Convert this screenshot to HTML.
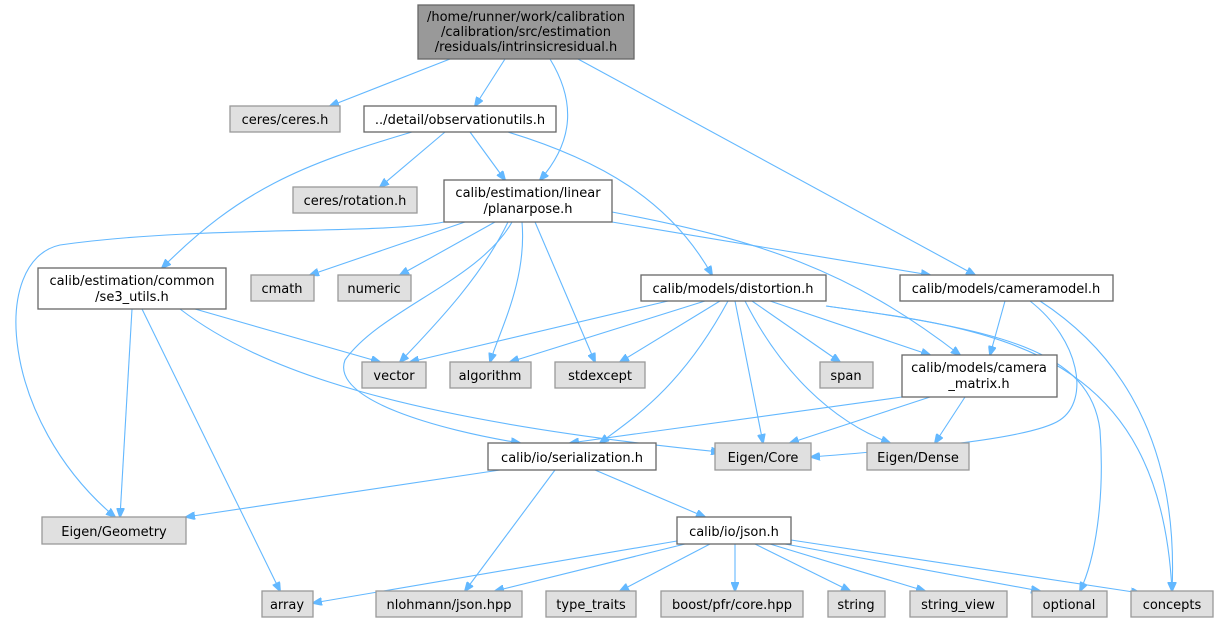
<!DOCTYPE html>
<html><head><meta charset="utf-8"><style>
html,body{margin:0;padding:0;background:#fff;}
svg{display:block;}
text{font-family:"DejaVu Sans","Liberation Sans",sans-serif;font-size:13px;fill:#000;}
.w{fill:#fff;stroke:#666;stroke-width:1.3;}
.g{fill:#e0e0e0;stroke:#999;stroke-width:1.3;}
.r{fill:#999;stroke:#666;stroke-width:1.3;}
path.e{fill:none;stroke:#63b8ff;stroke-width:1.1;marker-end:url(#a);}
</style></head><body>
<svg width="1218" height="623" viewBox="0 0 1218 623" xmlns="http://www.w3.org/2000/svg">
<defs><marker id="a" markerWidth="10" markerHeight="8" refX="9" refY="4" orient="auto" markerUnits="userSpaceOnUse"><path d="M0,0 L10,4 L0,8 z" fill="#63b8ff" stroke="#63b8ff"/></marker></defs>
<g>
<path class="e" d="M450,59 L330,106"/>
<path class="e" d="M505,59 L475,106"/>
<path class="e" d="M550,59 C575,100 575,140 540,180"/>
<path class="e" d="M578,59 L975,275"/>
<path class="e" d="M412,132 C300,165 240,190 162,268"/>
<path class="e" d="M445,132 L380,187"/>
<path class="e" d="M470,132 L505,180"/>
<path class="e" d="M508,132 C600,160 670,200 712,275"/>
<path class="e" d="M444,222 C380,235 200,225 60,245 C-10,260 0,420 115,517"/>
<path class="e" d="M465,222 L310,275"/>
<path class="e" d="M495,222 L400,275"/>
<path class="e" d="M508,222 C480,280 430,330 400,362"/>
<path class="e" d="M512,222 C480,280 380,310 345,360 C330,400 440,430 520,443"/>
<path class="e" d="M522,222 C527,280 500,330 490,362"/>
<path class="e" d="M535,222 L595,362"/>
<path class="e" d="M612,222 L930,275"/>
<path class="e" d="M612,212 C760,240 850,270 960,355"/>
<path class="e" d="M195,309 L380,362"/>
<path class="e" d="M180,309 C260,370 400,420 720,452"/>
<path class="e" d="M132,309 L120,517"/>
<path class="e" d="M142,309 L280,591"/>
<path class="e" d="M668,301 L410,362"/>
<path class="e" d="M705,301 L510,362"/>
<path class="e" d="M720,301 L620,362"/>
<path class="e" d="M728,301 C680,390 630,420 600,443"/>
<path class="e" d="M735,301 L763,443"/>
<path class="e" d="M745,301 C780,370 830,420 890,443"/>
<path class="e" d="M752,301 L840,362"/>
<path class="e" d="M770,301 L930,355"/>
<path class="e" d="M826,306 C1000,330 1090,350 1100,430 C1105,500 1095,560 1080,591"/>
<path class="e" d="M826,306 C1000,330 1160,350 1172,591"/>
<path class="e" d="M1005,301 L990,355"/>
<path class="e" d="M1030,301 C1080,340 1090,400 1060,420 C1030,440 900,450 811,457"/>
<path class="e" d="M1040,301 C1100,340 1180,420 1172,591"/>
<path class="e" d="M902,397 L570,443"/>
<path class="e" d="M930,397 L790,443"/>
<path class="e" d="M965,397 L935,443"/>
<path class="e" d="M500,470 L186,517"/>
<path class="e" d="M555,470 L465,591"/>
<path class="e" d="M595,470 L705,517"/>
<path class="e" d="M677,541 L313,603"/>
<path class="e" d="M685,544 L495,591"/>
<path class="e" d="M710,544 L620,591"/>
<path class="e" d="M735,544 L735,591"/>
<path class="e" d="M755,544 L850,591"/>
<path class="e" d="M770,544 L925,591"/>
<path class="e" d="M785,544 L1040,591"/>
<path class="e" d="M791,540 L1140,593"/>
</g>
<rect class="r" x="418" y="5" width="216" height="54"/>
<text x="526" y="21" text-anchor="middle">/home/runner/work/calibration</text>
<text x="526" y="36" text-anchor="middle">/calibration/src/estimation</text>
<text x="526" y="51" text-anchor="middle">/residuals/intrinsicresidual.h</text>
<rect class="g" x="230" y="106" width="110" height="26"/><text x="285" y="124" text-anchor="middle">ceres/ceres.h</text>
<rect class="w" x="364" y="106" width="192" height="26"/><text x="460" y="124" text-anchor="middle">../detail/observationutils.h</text>
<rect class="g" x="293" y="187" width="124" height="26"/><text x="355" y="205" text-anchor="middle">ceres/rotation.h</text>
<rect class="w" x="444" y="180" width="168" height="42"/><text x="528" y="197" text-anchor="middle">calib/estimation/linear</text><text x="528" y="213" text-anchor="middle">/planarpose.h</text>
<rect class="w" x="38" y="268" width="188" height="41"/><text x="132" y="285" text-anchor="middle">calib/estimation/common</text><text x="132" y="301" text-anchor="middle">/se3_utils.h</text>
<rect class="g" x="251" y="275" width="63" height="26"/><text x="282" y="293" text-anchor="middle">cmath</text>
<rect class="g" x="338" y="275" width="73" height="26"/><text x="374" y="293" text-anchor="middle">numeric</text>
<rect class="w" x="641" y="275" width="185" height="26"/><text x="733" y="293" text-anchor="middle">calib/models/distortion.h</text>
<rect class="w" x="900" y="275" width="213" height="26"/><text x="1006" y="293" text-anchor="middle">calib/models/cameramodel.h</text>
<rect class="g" x="362" y="362" width="64" height="26"/><text x="394" y="380" text-anchor="middle">vector</text>
<rect class="g" x="450" y="362" width="81" height="26"/><text x="490" y="380" text-anchor="middle">algorithm</text>
<rect class="g" x="555" y="362" width="90" height="26"/><text x="600" y="380" text-anchor="middle">stdexcept</text>
<rect class="g" x="820" y="362" width="53" height="26"/><text x="846" y="380" text-anchor="middle">span</text>
<rect class="w" x="902" y="355" width="155" height="42"/><text x="979" y="372" text-anchor="middle">calib/models/camera</text><text x="979" y="388" text-anchor="middle">_matrix.h</text>
<rect class="w" x="488" y="443" width="168" height="27"/><text x="572" y="462" text-anchor="middle">calib/io/serialization.h</text>
<rect class="g" x="715" y="443" width="96" height="27"/><text x="763" y="462" text-anchor="middle">Eigen/Core</text>
<rect class="g" x="867" y="443" width="102" height="27"/><text x="918" y="462" text-anchor="middle">Eigen/Dense</text>
<rect class="g" x="42" y="517" width="144" height="27"/><text x="114" y="536" text-anchor="middle">Eigen/Geometry</text>
<rect class="w" x="677" y="517" width="114" height="27"/><text x="734" y="536" text-anchor="middle">calib/io/json.h</text>
<rect class="g" x="262" y="591" width="51" height="26"/><text x="287" y="609" text-anchor="middle">array</text>
<rect class="g" x="376" y="591" width="146" height="26"/><text x="449" y="609" text-anchor="middle">nlohmann/json.hpp</text>
<rect class="g" x="546" y="591" width="90" height="26"/><text x="591" y="609" text-anchor="middle">type_traits</text>
<rect class="g" x="661" y="591" width="142" height="26"/><text x="732" y="609" text-anchor="middle">boost/pfr/core.hpp</text>
<rect class="g" x="828" y="591" width="57" height="26"/><text x="856" y="609" text-anchor="middle">string</text>
<rect class="g" x="910" y="591" width="97" height="26"/><text x="958" y="609" text-anchor="middle">string_view</text>
<rect class="g" x="1032" y="591" width="75" height="26"/><text x="1069" y="609" text-anchor="middle">optional</text>
<rect class="g" x="1131" y="591" width="82" height="26"/><text x="1172" y="609" text-anchor="middle">concepts</text>
</svg>
</body></html>
